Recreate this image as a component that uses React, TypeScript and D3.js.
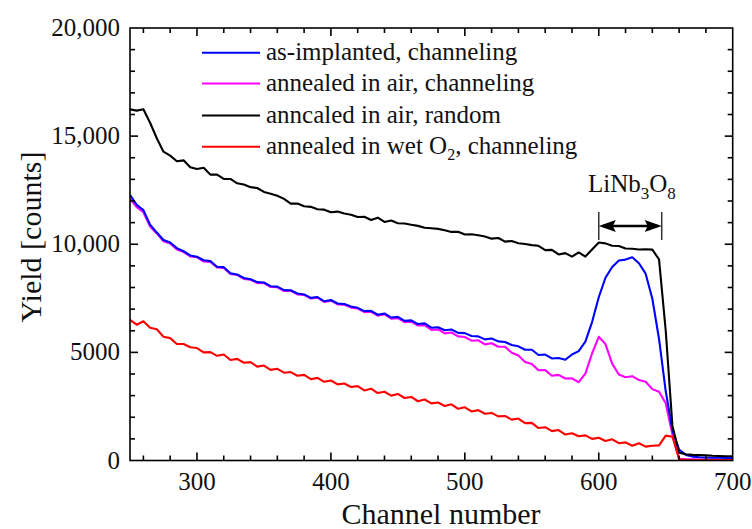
import React from 'react';
import * as d3 from 'd3';

// Channel numbers shared by every spectrum (5-channel spacing)
const channels: number[] = d3.range(250, 701, 5);

// RBS yield [counts] per channel
const asImplantedChanneling: number[] = [
  12280, 11820, 11580, 10900, 10540, 10200, 10080, 9820, 9680, 9480,
  9420, 9260, 9220, 8960, 8940, 8660, 8600, 8440, 8380, 8250,
  8230, 8060, 8040, 7880, 7870, 7720, 7680, 7520, 7560, 7360,
  7420, 7260, 7240, 7120, 7060, 6910, 6920, 6740, 6800, 6610,
  6640, 6460, 6480, 6310, 6340, 6140, 6160, 6020, 6060, 5900,
  5890, 5760, 5740, 5600, 5640, 5510, 5480, 5340, 5280, 5120,
  5120, 4880, 4900, 4720, 4740, 4660, 4900, 5060, 5500, 6400,
  7550, 8450, 8950, 9250, 9290, 9400, 9120, 8640, 7480, 5620,
  3200, 1400, 500, 260, 180, 150, 140, 130, 130, 120,
  120,
];

const airChanneling: number[] = [
  12100, 11720, 11480, 10820, 10500, 10140, 10040, 9760, 9640, 9440,
  9400, 9200, 9180, 8930, 8900, 8630, 8580, 8400, 8360, 8210,
  8200, 8020, 8010, 7840, 7850, 7680, 7660, 7490, 7530, 7330,
  7390, 7220, 7210, 7070, 7030, 6860, 6880, 6700, 6760, 6560,
  6580, 6400, 6420, 6240, 6260, 6040, 6060, 5880, 5920, 5740,
  5710, 5540, 5560, 5370, 5420, 5260, 5260, 4980, 4860, 4560,
  4460, 4170, 4180, 3920, 3960, 3790, 3800, 3620, 4020, 4950,
  5720, 5380, 4480, 3980, 3850, 3900, 3720, 3640, 3300, 3180,
  2650, 1200, 80, 60, 50, 40, 40, 30, 30, 30,
  30,
];

const airRandom: number[] = [
  16240, 16180, 16240, 15620, 14900, 14280, 14100, 13840, 13880, 13560,
  13480, 13540, 13220, 13220, 13020, 13020, 12820, 12760, 12640, 12600,
  12420, 12340, 12240, 12100, 11880, 11880, 11760, 11730, 11620, 11600,
  11480, 11510, 11420, 11360, 11260, 11270, 11120, 11230, 11030, 11100,
  10970, 10960, 10900, 10850, 10760, 10740, 10710, 10650, 10570, 10580,
  10450, 10460, 10420, 10360, 10260, 10290, 10120, 10150, 10050, 10010,
  9960, 9930, 9730, 9740, 9530, 9590, 9430, 9620, 9430, 9760,
  10080, 10040, 9930, 9920, 9800, 9790, 9760, 9770, 9750, 9300,
  6000, 1600, 360, 290, 260, 250, 240, 220, 210, 200,
  200,
];

const wetO2Channeling: number[] = [
  6500, 6280, 6440, 6140, 6070, 5720, 5660, 5390, 5390, 5240,
  5200, 5000, 5010, 4840, 4900, 4650, 4700, 4520, 4550, 4340,
  4390, 4190, 4240, 4060, 4090, 3920, 3960, 3760, 3820, 3640,
  3700, 3520, 3560, 3400, 3440, 3240, 3320, 3120, 3180, 3000,
  3080, 2890, 2940, 2740, 2820, 2640, 2680, 2520, 2600, 2390,
  2460, 2270, 2330, 2160, 2200, 2040, 2060, 1890, 1940, 1730,
  1740, 1500, 1540, 1360, 1410, 1200, 1260, 1120, 1160, 1000,
  1050, 900, 980, 800, 840, 680, 800, 640, 680, 700,
  1150, 1100, 60, 30, 20, 20, 20, 20, 20, 20,
  20,
];

const seriesNames = [
  'as-implanted, channeling',
  'annealed in air, channeling',
  'anncaled in air, random',
  'annealed in wet O2, channeling',
];
const seriesColors = ['#0000ff', '#ff00ff', '#000000', '#ff0000'];

const xMajorTicks = [300, 400, 500, 600, 700];
const yMajorTicks = [0, 5000, 10000, 15000, 20000];
const yTickLabels = ['0', '5000', '10,000', '15,000', '20,000'];

// Channel span of the LiNb3O8 layer marker
const phaseSpan = [600, 647];

const FONT = "'Liberation Serif', 'Times New Roman', serif";

export default function App() {
  const width = 752;
  const height = 529;
  const left = 130;
  const right = 732.7;
  const top = 28;
  const bottom = 460.5;

  const x = d3.scaleLinear().domain([250, 700]).range([left, right]);
  const y = d3.scaleLinear().domain([0, 20000]).range([bottom, top]);

  const line = d3
    .line<number>()
    .x((_, i) => x(channels[i]))
    .y((d) => y(d));

  const data = [asImplantedChanneling, airChanneling, airRandom, wetO2Channeling];
  // drawing order: magenta below blue, black and red above
  const drawOrder = [1, 0, 2, 3];

  const xMinor = d3.range(260, 700, 20);
  const yMinor = d3.range(1000, 20000, 1000);
  const majorLen = 8;
  const minorLen = 5;

  const legendY = [52.7, 83.5, 115.5, 146.7];

  const ax1 = x(phaseSpan[0]);
  const ax2 = x(phaseSpan[1]);
  const ay = 226;
  const headL = 17;
  const headH = 6;

  return (
    <svg
      width={width}
      height={height}
      style={{ position: 'absolute', left: 0, top: 0, background: '#fff' }}
      fontFamily={FONT}
    >
      <defs>
        <clipPath id="plotClip">
          <rect x={left} y={top} width={right - left} height={bottom - top} />
        </clipPath>
      </defs>

      {/* spectra */}
      <g clipPath="url(#plotClip)">
        {drawOrder.map((k) => (
          <path
            key={k}
            d={line(data[k]) || ''}
            fill="none"
            stroke={seriesColors[k]}
            strokeWidth={2.1}
            strokeLinejoin="round"
          />
        ))}
      </g>

      {/* frame */}
      <rect
        x={left}
        y={top}
        width={right - left}
        height={bottom - top}
        fill="none"
        stroke="#000"
        strokeWidth={1.6}
      />

      {/* x ticks, bottom and top, pointing inward */}
      {xMinor.map((c) => {
        const len = xMajorTicks.includes(c) ? majorLen : minorLen;
        return (
          <g key={'xt' + c} stroke="#000" strokeWidth={1.6}>
            <line x1={x(c)} x2={x(c)} y1={bottom} y2={bottom - len} />
            <line x1={x(c)} x2={x(c)} y1={top} y2={top + len} />
          </g>
        );
      })}

      {/* y ticks, left and right, pointing inward */}
      {yMinor.map((v) => {
        const len = yMajorTicks.includes(v) ? majorLen : minorLen;
        return (
          <g key={'yt' + v} stroke="#000" strokeWidth={1.6}>
            <line x1={left} x2={left + len} y1={y(v)} y2={y(v)} />
            <line x1={right} x2={right - len} y1={y(v)} y2={y(v)} />
          </g>
        );
      })}

      {/* tick labels */}
      {xMajorTicks.map((c) => (
        <text key={'xl' + c} x={x(c)} y={490} fontSize={25} textAnchor="middle" fill="#111">
          {c}
        </text>
      ))}
      {yMajorTicks.map((v, i) => (
        <text key={'yl' + v} x={120} y={y(v) + 8} fontSize={25} textAnchor="end" fill="#111">
          {yTickLabels[i]}
        </text>
      ))}

      {/* axis titles */}
      <text x={441} y={524} fontSize={30} textAnchor="middle" fill="#111">
        Channel number
      </text>
      <text
        transform={`translate(41, 237) rotate(-90)`}
        fontSize={30}
        textAnchor="middle"
        fill="#111"
      >
        Yield [counts]
      </text>

      {/* legend */}
      {seriesNames.map((name, i) => (
        <g key={'lg' + i}>
          <line
            x1={202}
            x2={260}
            y1={legendY[i]}
            y2={legendY[i]}
            stroke={seriesColors[i]}
            strokeWidth={2}
          />
          <text x={266} y={legendY[i] + 7} fontSize={25} fill="#111">
            {name.endsWith('O2, channeling') ? (
              <>
                {'annealed in wet O'}
                <tspan fontSize={16} dy={6}>
                  2
                </tspan>
                <tspan dy={-6}>, channeling</tspan>
              </>
            ) : (
              name
            )}
          </text>
        </g>
      ))}

      {/* LiNb3O8 annotation */}
      <text x={588} y={192} fontSize={25} fill="#111">
        LiNb
        <tspan fontSize={17} dy={7}>
          3
        </tspan>
        <tspan dy={-7}>O</tspan>
        <tspan fontSize={17} dy={7}>
          8
        </tspan>
      </text>
      <g>
        <line x1={ax1} x2={ax1} y1={212} y2={240} stroke="#333" strokeWidth={1.5} />
        <line x1={ax2} x2={ax2} y1={212} y2={240} stroke="#333" strokeWidth={1.5} />
        <line x1={ax1 + 4} x2={ax2 - 4} y1={ay} y2={ay} stroke="#000" strokeWidth={2.5} />
        <path
          d={`M${ax1},${ay} L${ax1 + headL},${ay - headH} L${ax1 + headL - 3},${ay} L${ax1 + headL},${ay + headH} Z`}
          fill="#000"
        />
        <path
          d={`M${ax2},${ay} L${ax2 - headL},${ay - headH} L${ax2 - headL + 3},${ay} L${ax2 - headL},${ay + headH} Z`}
          fill="#000"
        />
      </g>
    </svg>
  );
}
